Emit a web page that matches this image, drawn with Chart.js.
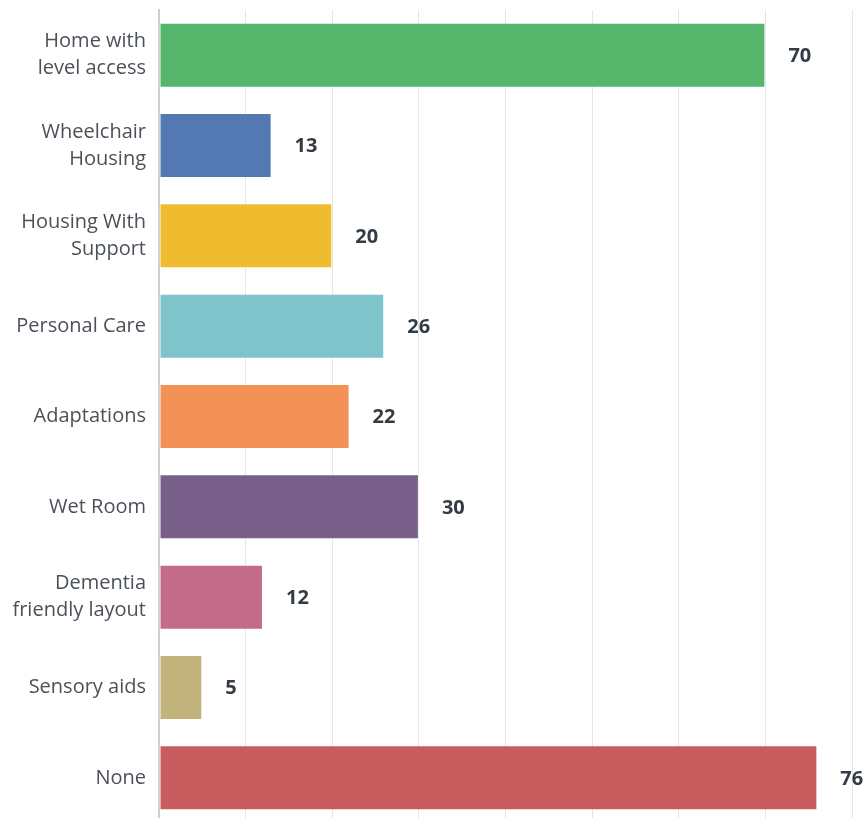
<!DOCTYPE html>
<html lang="en">
<head>
<meta charset="UTF-8">
<title>Housing needs</title>
<script src="https://cdn.jsdelivr.net/npm/chart.js@4"></script>
<style>
  html, body { margin: 0; padding: 0; background: #fff; overflow: hidden; }
  .wrap { width: 863px; height: 823px; position: relative; }
</style>
</head>
<body>
<div class="wrap"><canvas id="chart"></canvas></div>
<script>
const categories = [
  ["Home with", "level access"],
  ["Wheelchair", "Housing"],
  ["Housing With", "Support"],
  "Personal Care",
  "Adaptations",
  "Wet Room",
  ["Dementia", "friendly layout"],
  "Sensory aids",
  "None"
];
const values = [70, 13, 20, 26, 22, 30, 12, 5, 76];
const barColors = ["#55b56b", "#5479b2", "#efbb2f", "#7fc4ca", "#f39156", "#775f8a", "#c56b8a", "#c2b27b", "#c95c5e"];
const xMax = 80;
const xStep = 10;

// draws the number just right of each bar
const valueLabels = {
  id: "valueLabels",
  afterDatasetsDraw(chart) {
    const ctx = chart.ctx;
    const meta = chart.getDatasetMeta(0);
    ctx.save();
    ctx.font = "bold 20px 'Open Sans'";
    ctx.fillStyle = "#333c45";
    ctx.textAlign = "left";
    ctx.textBaseline = "middle";
    meta.data.forEach((bar, i) => {
      ctx.fillText(values[i], bar.x + 23, bar.y + 1);
    });
    ctx.restore();
  }
};

new Chart(document.getElementById("chart"), {
  type: "bar",
  data: {
    labels: categories,
    datasets: [{
      data: values,
      backgroundColor: barColors,
      borderColor: "rgba(255,255,255,0.35)",
      borderWidth: 1,
      borderSkipped: false,
      barPercentage: 0.72,
      categoryPercentage: 1
    }]
  },
  options: {
    indexAxis: "y",
    responsive: true,
    maintainAspectRatio: false,
    animation: false,
    layout: { padding: { top: 10, right: 11, bottom: 0, left: 0 } },
    plugins: { legend: { display: false }, tooltip: { enabled: false } },
    scales: {
      x: {
        min: 0,
        max: xMax,
        ticks: { display: false, stepSize: xStep },
        grid: { color: "#e6e6e6", lineWidth: 1, drawTicks: false },
        border: { display: false },
        afterFit(scale) { scale.height = 0; scale.paddingLeft = 0; scale.paddingRight = 0; }
      },
      y: {
        afterFit(scale) { scale.width = 159; scale.paddingTop = 0; scale.paddingBottom = 0; },
        ticks: {
          padding: 13,
          color: "#4b5159",
          font: { family: "Open Sans", size: 20, lineHeight: 1.35 }
        },
        grid: { display: false, drawTicks: false },
        border: { display: true, color: "#cfcfcf", width: 2 }
      }
    }
  },
  plugins: [valueLabels]
});
</script>
</body>
</html>
